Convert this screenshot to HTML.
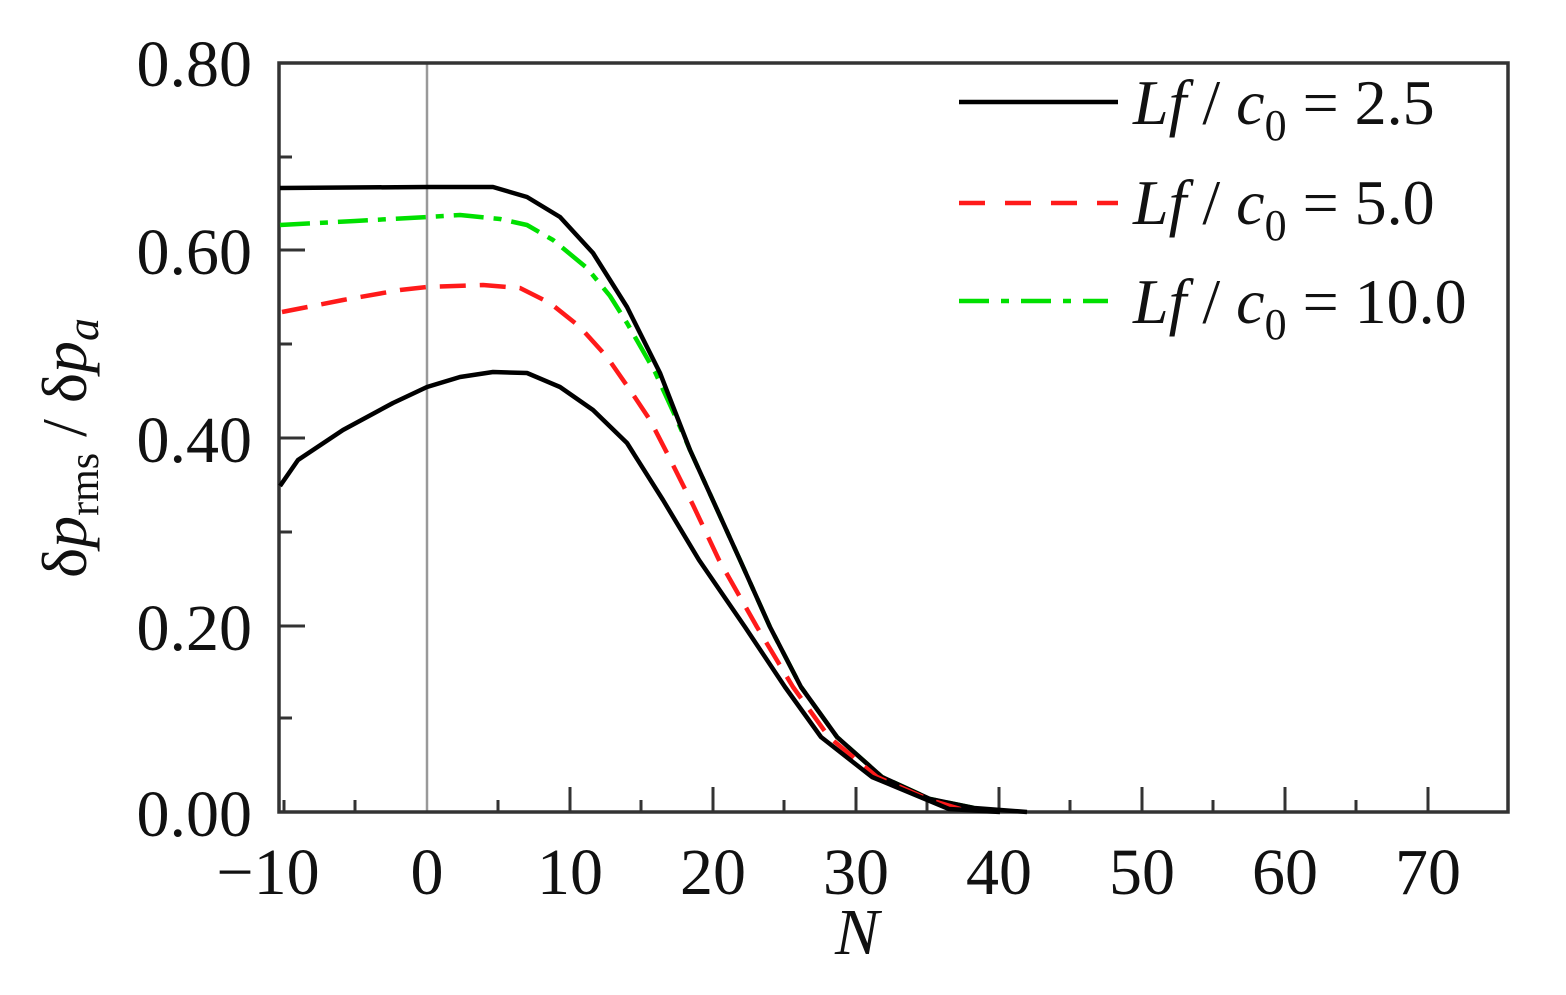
<!DOCTYPE html>
<html><head><meta charset="utf-8"><style>
html,body{margin:0;padding:0;background:#fff;}
svg{display:block;}
text{font-family:"Liberation Serif",serif;fill:#111;}
</style></head><body>
<svg width="1566" height="995" viewBox="0 0 1566 995" xmlns="http://www.w3.org/2000/svg">
<rect width="1566" height="995" fill="#fff"/>
<line x1="427" y1="63" x2="427" y2="812" stroke="#999" stroke-width="2.5"/>
<g stroke="#333" stroke-width="3">
<line x1="284" y1="812" x2="284" y2="800"/><line x1="355" y1="812" x2="355" y2="800"/>
<line x1="498" y1="812" x2="498" y2="800"/><line x1="570" y1="812" x2="570" y2="787"/>
<line x1="641" y1="812" x2="641" y2="800"/><line x1="713" y1="812" x2="713" y2="787"/>
<line x1="784" y1="812" x2="784" y2="800"/><line x1="856" y1="812" x2="856" y2="787"/>
<line x1="927" y1="812" x2="927" y2="800"/><line x1="999" y1="812" x2="999" y2="787"/>
<line x1="1070" y1="812" x2="1070" y2="800"/><line x1="1142" y1="812" x2="1142" y2="787"/>
<line x1="1213" y1="812" x2="1213" y2="800"/><line x1="1285" y1="812" x2="1285" y2="787"/>
<line x1="1356" y1="812" x2="1356" y2="800"/><line x1="1428" y1="812" x2="1428" y2="787"/>
<line x1="279" y1="718" x2="292" y2="718"/><line x1="279" y1="626" x2="305" y2="626"/>
<line x1="279" y1="532" x2="292" y2="532"/><line x1="279" y1="438" x2="305" y2="438"/>
<line x1="279" y1="344" x2="292" y2="344"/><line x1="279" y1="250" x2="305" y2="250"/>
<line x1="279" y1="157" x2="292" y2="157"/>
</g>
<rect x="279" y="63" width="1229" height="749" fill="none" stroke="#333" stroke-width="3.5"/>
<g fill="none" stroke-width="4.5" stroke-linejoin="round">
<polyline stroke="#00e000" stroke-dasharray="30,10,8,10" points="280,225 355,221 427,217 460,215 500,219 527,225 553,240 587,268 610,296 627,323 655,372 677,420 690,450 715,505 740,560 770,627 801,687 837,737 882,777 930,799 974,808"/>
<polyline stroke="#000" points="280,188 427,187 493,187 527,197 560,217 593,253 627,307 660,373 690,450 715,505 740,560 770,627 801,687 837,737 882,777 930,799 974,808 1027,812"/>
<polyline stroke="#ff1a1a" stroke-dasharray="26,14" points="282,312 343,300 400,290 427,287 483,285 520,288 550,303 580,327 607,357 630,390 650,420 667,453 693,505 719,560 757,627 793,687 829,737 877,777 930,800 970,812"/>
<polyline stroke="#000" points="280,486 298,460 343,430 393,403 427,387 460,377 493,372 527,373 560,387 593,410 627,443 663,500 699,560 745,627 785,687 821,737 872,777 949,809 1000,812"/>
</g>
<line x1="959" y1="102" x2="1118" y2="102" stroke="#000" stroke-width="4.5"/>
<line x1="959" y1="203" x2="1118" y2="203" stroke="#ff1a1a" stroke-width="4.5" stroke-dasharray="26,20"/>
<line x1="959" y1="301" x2="1108" y2="301" stroke="#00e000" stroke-width="4.5" stroke-dasharray="30,12,8,12"/>
<g font-size="64">
<text x="1133" y="124"><tspan font-style="italic">Lf</tspan> / <tspan font-style="italic">c</tspan><tspan font-size="44" dy="16">0</tspan><tspan dy="-16"> = 2.5</tspan></text>
<text x="1133" y="224"><tspan font-style="italic">Lf</tspan> / <tspan font-style="italic">c</tspan><tspan font-size="44" dy="16">0</tspan><tspan dy="-16"> = 5.0</tspan></text>
<text x="1133" y="323"><tspan font-style="italic">Lf</tspan> / <tspan font-style="italic">c</tspan><tspan font-size="44" dy="16">0</tspan><tspan dy="-16"> = 10.0</tspan></text>
</g>
<g font-size="66" text-anchor="end">
<text x="252" y="86">0.80</text><text x="252" y="274">0.60</text>
<text x="252" y="462">0.40</text><text x="252" y="650">0.20</text>
<text x="252" y="836">0.00</text>
</g>
<g font-size="66" text-anchor="middle">
<text x="268" y="894">−10</text><text x="427" y="894">0</text><text x="570" y="894">10</text>
<text x="713" y="894">20</text><text x="856" y="894">30</text><text x="999" y="894">40</text>
<text x="1142" y="894">50</text><text x="1285" y="894">60</text><text x="1428" y="894">70</text>
<text x="857" y="954" font-style="italic">N</text>
</g>
<text transform="translate(86,448) rotate(-90)" font-size="64" text-anchor="middle">δ<tspan font-style="italic">p</tspan><tspan font-size="42" dy="12">rms</tspan><tspan dy="-12"> / δ</tspan><tspan font-style="italic">p</tspan><tspan font-size="46" font-style="italic" dy="12">a</tspan></text>
</svg>
</body></html>
